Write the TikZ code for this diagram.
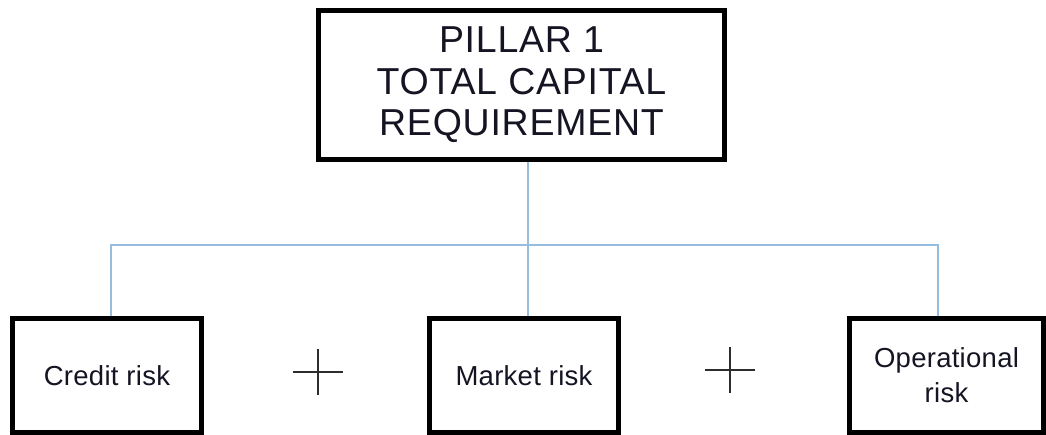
\documentclass[tikz,border=0pt]{standalone}
\usepackage{fontspec}
\setmainfont{Liberation Sans}
\newfontfamily\bigf[LetterSpace=2]{Liberation Sans}
\newfontfamily\smallf[LetterSpace=1]{Liberation Sans}
\definecolor{linkblue}{RGB}{150,188,222}
\definecolor{plusgray}{RGB}{45,45,45}
\definecolor{txt}{RGB}{20,20,35}
\tikzset{
  bigbox/.style={draw=black, line width=5pt, minimum width=406pt, minimum height=149pt,
    inner sep=0pt, align=center, text=txt, font=\bigf\fontsize{37.5}{41.5}\selectfont},
  riskbox/.style={draw=black, line width=5pt, minimum height=114pt,
    inner sep=0pt, align=center, text=txt, font=\smallf\fontsize{27.5}{35}\selectfont},
  link/.style={draw=linkblue, line width=2pt},
  plusline/.style={draw=plusgray, line width=1.5pt}
}
\begin{document}
\begin{tikzpicture}[x=1pt, y=-1pt]
\useasboundingbox (0,0) rectangle (1046,435);
\node[bigbox] (top) at (521.5,85) {PILLAR 1\\TOTAL CAPITAL\\REQUIREMENT};
\node[riskbox, minimum width=189pt] (credit) at (107,375.5) {Credit risk};
\node[riskbox, minimum width=189pt] (market) at (524,375.5) {Market risk};
\node[riskbox, minimum width=194pt] (oper) at (946.5,375.5) {Operational\\risk};
\coordinate (j) at (528,245);
\coordinate (jl) at (111,245);
\coordinate (jr) at (938,245);
\draw[link] (j |- top.south) -- (j);
\draw[link] (jl |- credit.north) -- (jl) -- (jr) -- (jr |- oper.north);
\draw[link] (j) -- (j |- market.north);
\coordinate (p1) at (318,372);
\coordinate (p2) at (730,370);
\foreach \p in {p1,p2}{
  \draw[plusline] ([xshift=-25pt]\p) -- ([xshift=25pt]\p);
  \draw[plusline] ([yshift=-23pt]\p) -- ([yshift=23pt]\p);
}
\end{tikzpicture}
\end{document}
